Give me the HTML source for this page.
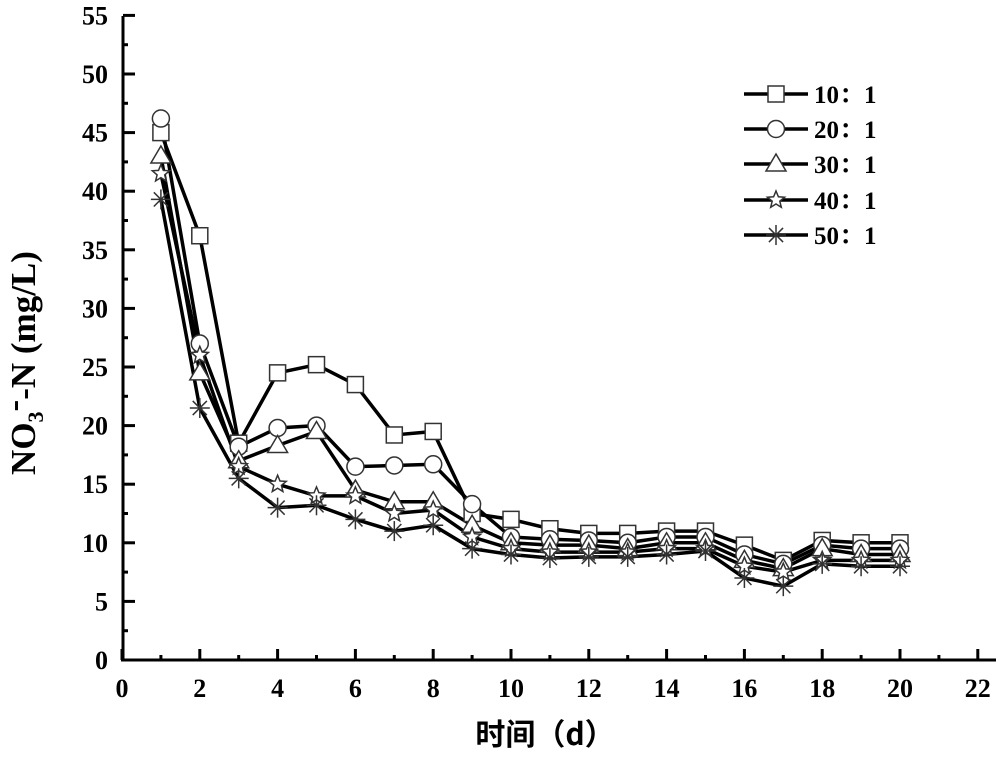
<!DOCTYPE html>
<html><head><meta charset="utf-8"><style>
body{margin:0;background:#fff;}
svg text{font-family:"Liberation Serif","Noto Serif CJK SC",serif;font-weight:bold;fill:#000;}
</style></head><body>
<svg id="s" width="1000" height="757" xmlns="http://www.w3.org/2000/svg">
<g id="ax" stroke="#000" stroke-width="3" fill="none">
<line x1="123" y1="16" x2="123" y2="661"/>
<line x1="121" y1="660" x2="996" y2="660"/>
</g>
<g id="tl" font-size="26"></g>
<text x="0" y="0" font-size="35" transform="translate(35,363) rotate(-90)" text-anchor="middle">NO<tspan font-size="22" dy="8">3</tspan><tspan dy="-18">-</tspan><tspan dy="10">-N (mg/L)</tspan></text>
<text x="545" y="745" font-size="30" text-anchor="middle" style="font-family:'Noto Sans CJK SC',sans-serif">时间（d）</text>
<g id="d"></g>
<g id="lg"></g>
</svg>
<script>
const NS="http://www.w3.org/2000/svg";
function el(t,a,p){const e=document.createElementNS(NS,t);for(const k in a)e.setAttribute(k,a[k]);p.appendChild(e);return e;}
const X=v=>122+v*38.9, Y=v=>660-v*11.72;
const ax=document.getElementById('ax'),tl=document.getElementById('tl');
for(let v=0;v<=55;v+=5){el('line',{x1:123,y1:Y(v),x2:135,y2:Y(v)},ax);
 const t=el('text',{x:108,y:Y(v)+9,'text-anchor':'end'},tl);t.textContent=v;}
for(let v=2.5;v<55;v+=5){el('line',{x1:123,y1:Y(v),x2:128,y2:Y(v)},ax);}
for(let v=0;v<=22;v+=2){el('line',{x1:X(v),y1:660,x2:X(v),y2:649},ax);
 const t=el('text',{x:X(v),y:697,'text-anchor':'middle'},tl);t.textContent=v;}
for(let v=1;v<22;v+=2){el('line',{x1:X(v),y1:660,x2:X(v),y2:655},ax);}
const data=[
[45,36.2,18.5,24.5,25.2,23.5,19.2,19.5,12.5,12,11.2,10.8,10.8,11,11,9.8,8.5,10.2,10,10],
[46.2,27,18.2,19.8,20,16.5,16.6,16.7,13.3,10.5,10.3,10.2,10,10.5,10.5,9,8.2,9.8,9.5,9.5],
[43,24.5,17,18.3,19.5,14.5,13.5,13.5,11.5,10,9.8,9.8,9.5,10,10,8.5,7.8,9.5,9,9],
[41.5,26,16.5,15,14,14,12.5,12.8,10.5,9.5,9.2,9.2,9.2,9.5,9.5,8,7.5,8.5,8.5,8.5],
[39.3,21.5,15.5,13,13.2,12,11,11.5,9.5,9,8.7,8.8,8.8,9,9.3,7,6.3,8.2,8,8]];
function marker(k,x,y,p){
 const st={fill:'#fff',stroke:'#333','stroke-width':1.5};
 if(k==0)el('rect',Object.assign({x:x-8,y:y-8,width:16,height:16},st),p);
 else if(k==1)el('circle',Object.assign({cx:x,cy:y,r:8.5},st),p);
 else if(k==2)el('polygon',Object.assign({points:`${x},${y-10} ${x-10},${y+7} ${x+10},${y+7}`},st),p);
 else if(k==3){let pts=[];for(let i=0;i<10;i++){const r=i%2?4:9,a=-Math.PI/2+i*Math.PI/5;pts.push((x+r*Math.cos(a)).toFixed(1)+','+(y+r*Math.sin(a)).toFixed(1));}
  el('polygon',Object.assign({points:pts.join(' ')},st),p);}
 else {for(let i=0;i<4;i++){const a=i*Math.PI/4;el('line',{x1:x-10*Math.cos(a),y1:y-10*Math.sin(a),x2:x+10*Math.cos(a),y2:y+10*Math.sin(a),stroke:'#333','stroke-width':1.5},p);}}
}
const d=document.getElementById('d');
data.forEach((s,k)=>{el('polyline',{points:s.map((v,i)=>X(i+1)+','+Y(v)).join(' '),fill:'none',stroke:'#000','stroke-width':3.5},d);});
data.forEach((s,k)=>{s.forEach((v,i)=>marker(k,X(i+1),Y(v),d));});
const lg=document.getElementById('lg');
const rows=[94,129,164,200,235],labs=['10：1','20：1','30：1','40：1','50：1'];
rows.forEach((y,k)=>{el('line',{x1:744,y1:y,x2:808,y2:y,stroke:'#000','stroke-width':3.5},lg);marker(k,776,y,lg);
 const t=el('text',{x:814,y:y+9,'font-size':25},lg);t.textContent=labs[k];});
</script>
</body></html>
